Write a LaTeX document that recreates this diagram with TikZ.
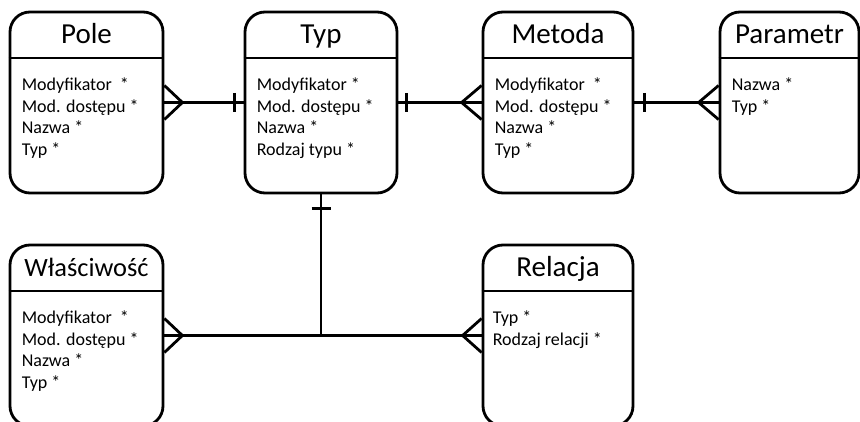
\documentclass[tikz,border=0pt]{standalone}
\usepackage{fontspec}
\setmainfont{Carlito}
\begin{document}
\begin{tikzpicture}[x=1pt,y=-1pt,
  ent/.style={draw=black, line width=2.8pt, rounded corners=20pt, rectangle, inner sep=0pt},
  ttl/.style={font=\fontsize{29}{34}\selectfont, anchor=base, inner sep=0pt},
  attr/.style={font=\fontsize{18}{21.6}\selectfont, anchor=base west, align=left, inner sep=0pt},
  conn/.style={line width=2.8pt},
  hdr/.style={line width=2.8pt}]
\useasboundingbox (0,0) rectangle (860,422);
\clip (0,0) rectangle (860,422);
% entities
\node[ent, minimum width=153pt, minimum height=181pt] (pole) at (86.5,102.5) {};
\node[ent, minimum width=152pt, minimum height=181pt] (typ) at (321,102.5) {};
\node[ent, minimum width=150pt, minimum height=181pt] (met) at (558,102.5) {};
\node[ent, minimum width=139pt, minimum height=181pt] (par) at (789.5,102.5) {};
\node[ent, minimum width=153pt, minimum height=181pt] (wl) at (86.5,335.5) {};
\node[ent, minimum width=150pt, minimum height=181pt] (rel) at (558,335.5) {};
% header lines
\foreach \n in {pole,typ,met,par,wl,rel}{
  \draw[hdr] ([yshift=-47.5pt]\n.north west) -- ([yshift=-47.5pt]\n.north east);
}
% titles
\node[ttl] (poleT) at ([yshift=-33pt]pole.north) {Pole};
\node[ttl] (typT) at ([yshift=-33pt]typ.north) {Typ};
\node[ttl] (metT) at ([yshift=-33pt]met.north) {Metoda};
\node[ttl] (parT) at ([yshift=-33pt]par.north) {Parametr};
\node[ttl, font=\fontsize{26.4}{31}\selectfont] (wlT) at ([yshift=-33pt]wl.north) {Właściwość};
\node[ttl] (relT) at ([yshift=-33pt]rel.north) {Relacja};
% attributes (anchor = baseline of the last line)
\node[attr] (poleA) at ([xshift=13pt,yshift=-144.8pt]pole.north west) {Modyfikator\ \ *\\Mod. dostępu *\\Nazwa *\\Typ *};
\node[attr] (typA) at ([xshift=13pt,yshift=-144.8pt]typ.north west) {Modyfikator *\\Mod. dostępu *\\Nazwa *\\Rodzaj typu *};
\node[attr] (metA) at ([xshift=13pt,yshift=-144.8pt]met.north west) {Modyfikator\ \ *\\Mod. dostępu *\\Nazwa *\\Typ *};
\node[attr] (parA) at ([xshift=13pt,yshift=-101.6pt]par.north west) {Nazwa *\\Typ *};
\node[attr] (wlA) at ([xshift=13pt,yshift=-144.8pt]wl.north west) {Modyfikator\ \ *\\Mod. dostępu *\\Nazwa *\\Typ *};
\node[attr] (relA) at ([xshift=11pt,yshift=-101.6pt]rel.north west) {Typ *\\Rodzaj relacji *};
% Pole -- Typ
\draw[conn] (pole.east) -- (typ.west);
\draw[conn] ([yshift=17pt]pole.east) -- ([xshift=18pt]pole.east) -- ([yshift=-17pt]pole.east);
\draw[conn] ([xshift=-9pt,yshift=9.5pt]typ.west) -- ([xshift=-9pt,yshift=-9.5pt]typ.west);
% Typ -- Metoda
\draw[conn] (typ.east) -- (met.west);
\draw[conn] ([xshift=8pt,yshift=9.5pt]typ.east) -- ([xshift=8pt,yshift=-9.5pt]typ.east);
\draw[conn] ([yshift=17pt]met.west) -- ([xshift=-20pt]met.west) -- ([yshift=-17pt]met.west);
% Metoda -- Parametr
\draw[conn] (met.east) -- (par.west);
\draw[conn] ([xshift=10pt,yshift=9.5pt]met.east) -- ([xshift=10pt,yshift=-9.5pt]met.east);
\draw[conn] ([yshift=17pt]par.west) -- ([xshift=-20pt]par.west) -- ([yshift=-17pt]par.west);
% Typ -- Wlasciwosc / Relacja
\coordinate (j) at (typ.south |- wl.east);
\draw[conn] (typ.south) -- (j);
\draw[conn] ([xshift=-9.5pt,yshift=-14pt]typ.south) -- ([xshift=9.5pt,yshift=-14pt]typ.south);
\draw[conn] (wl.east) -- (rel.west);
\draw[conn] ([yshift=17pt]wl.east) -- ([xshift=18pt]wl.east) -- ([yshift=-17pt]wl.east);
\draw[conn] ([yshift=17pt]rel.west) -- ([xshift=-19pt]rel.west) -- ([yshift=-17pt]rel.west);
\end{tikzpicture}
\end{document}
